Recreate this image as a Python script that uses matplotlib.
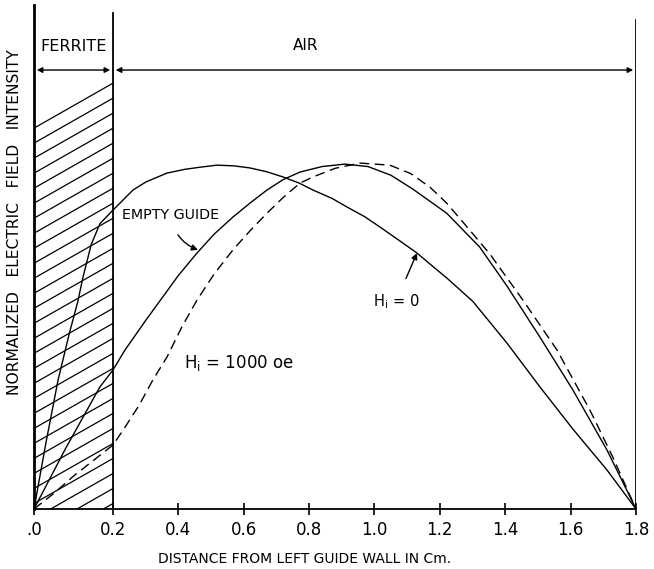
import numpy as np
import matplotlib
matplotlib.use('Agg')
import matplotlib.pyplot as plt

# --- data (x in cm, y normalised so peak ~ 1) ---
h0_x = [0.0, 0.03, 0.061, 0.09, 0.111, 0.124, 0.145, 0.167, 0.2, 0.261, 0.3, 0.365,
        0.42, 0.466, 0.518, 0.57, 0.619, 0.67, 0.720, 0.77, 0.812, 0.87, 0.916, 0.97,
        1.017, 1.07, 1.130, 1.18, 1.221, 1.301, 1.405, 1.506, 1.607, 1.711, 1.8]
h0_y = [0.0, 0.19, 0.373, 0.51, 0.60, 0.67, 0.765, 0.825, 0.864, 0.922, 0.945, 0.971,
        0.982, 0.988, 0.994, 0.992, 0.986, 0.975, 0.960, 0.942, 0.922, 0.898, 0.873, 0.845,
        0.815, 0.78, 0.740, 0.70, 0.668, 0.60, 0.48, 0.353, 0.231, 0.113, 0.0]

empty_x = [0.0, 0.08, 0.167, 0.2, 0.237, 0.3, 0.35, 0.4, 0.457, 0.51, 0.567, 0.62,
           0.671, 0.72, 0.772, 0.84, 0.909, 0.98, 1.05, 1.117, 1.221, 1.322, 1.405,
           1.506, 1.607, 1.711, 1.8]
empty_y = [0.0, 0.175, 0.353, 0.402, 0.46, 0.545, 0.61, 0.675, 0.74, 0.795, 0.844, 0.885,
           0.922, 0.952, 0.974, 0.99, 0.997, 0.99, 0.965, 0.925, 0.855, 0.757, 0.645,
           0.497, 0.344, 0.171, 0.0]

h1000_x = [0.0, 0.05, 0.1, 0.15, 0.2, 0.231, 0.28, 0.322, 0.365, 0.41, 0.457, 0.51,
           0.567, 0.62, 0.671, 0.72, 0.772, 0.812, 0.88, 0.956, 1.047, 1.11, 1.169,
           1.22, 1.270, 1.353, 1.454, 1.558, 1.659, 1.729, 1.8]
h1000_y = [0.0, 0.045, 0.095, 0.14, 0.185, 0.228, 0.30, 0.373, 0.439, 0.525, 0.604, 0.68,
           0.749, 0.805, 0.855, 0.90, 0.942, 0.960, 0.985, 1.0, 0.994, 0.97, 0.931,
           0.885, 0.83, 0.737, 0.604, 0.46, 0.286, 0.150, 0.0]

x_ticks = [0.0, 0.2, 0.4, 0.6, 0.8, 1.0, 1.2, 1.4, 1.6, 1.8]
x_ticklabels = ['.0', '0.2', '0.4', '0.6', '0.8', '1.0', '1.2', '1.4', '1.6', '1.8']

FERRITE_END = 0.2
GUIDE_END = 1.8
FERRITE_TOP = (1.101, 1.231)   # hatch top edge at x=0 and x=0.2
Y_TOP = 1.457

# ferrite slab is drawn wider than the air region in the original drawing
def fwd(x):
    x = np.asarray(x, dtype=float)
    return np.where(x <= 0.2, x * 395.0, 79.0 + (x - 0.2) * 327.0)

def inv(p):
    p = np.asarray(p, dtype=float)
    return np.where(p <= 79.0, p / 395.0, 0.2 + (p - 79.0) / 327.0)

fig = plt.figure(figsize=(6.54, 5.69), dpi=100)
ax = fig.add_axes([34 / 654, 1 - 509 / 569, 602 / 654, 504 / 569])
ax.set_xscale('function', functions=(fwd, inv))
ax.set_xlim(0, GUIDE_END)
ax.set_ylim(0, Y_TOP)

# hatching of the ferrite slab
slope = (FERRITE_TOP[1] - FERRITE_TOP[0]) / FERRITE_END
for k in range(29):
    c = FERRITE_TOP[0] - k * 0.0434
    x0 = max(0.0, -c / slope)
    y1 = c + slope * FERRITE_END
    if y1 <= 0:
        continue
    ax.plot([x0, FERRITE_END], [c + slope * x0, y1], color='black', lw=0.9)

# curves
ax.plot(h0_x, h0_y, color='black', lw=1.0)
ax.plot(empty_x, empty_y, color='black', lw=1.0)
ax.plot(h1000_x, h1000_y, color='black', lw=1.0, dashes=(7, 4))

# walls
ax.plot([FERRITE_END, FERRITE_END], [0, 1.434], color='black', lw=1.3)
ax.plot([GUIDE_END, GUIDE_END], [0, 1.413], color='black', lw=2.0)

# region arrows
arr_y = 1.269
ax.annotate('', xy=(0, arr_y), xytext=(FERRITE_END, arr_y),
            arrowprops=dict(arrowstyle='<|-|>', color='black', lw=1.0, mutation_scale=8))
ax.annotate('', xy=(FERRITE_END, arr_y), xytext=(GUIDE_END, arr_y),
            arrowprops=dict(arrowstyle='<|-|>', color='black', lw=1.0, mutation_scale=8))
ax.text(0.1, 1.315, 'FERRITE', ha='center', va='bottom', fontsize=11.5)
ax.text(0.788, 1.318, 'AIR', ha='center', va='bottom', fontsize=11)

# labels on curves
ax.annotate('EMPTY GUIDE', xy=(0.46, 0.749), xytext=(0.377, 0.85),
            ha='center', va='center', fontsize=10.3,
            arrowprops=dict(arrowstyle='-|>', color='black', lw=1.0,
                            connectionstyle='arc3,rad=0.3',
                            shrinkA=8, shrinkB=0, mutation_scale=9))
ax.annotate('H$_\\mathregular{i}$ = 0', xy=(1.130, 0.740), xytext=(1.065, 0.598),
            ha='center', va='center', fontsize=10.5,
            arrowprops=dict(arrowstyle='-|>', color='black', lw=1.0,
                            shrinkA=9, shrinkB=0, mutation_scale=9))
ax.text(0.585, 0.422, 'H$_\\mathregular{i}$ = 1000 oe', ha='center', va='center',
        fontsize=12)

# axes styling
for s in ['top', 'right']:
    ax.spines[s].set_visible(False)
ax.spines['left'].set_linewidth(2.0)
ax.spines['bottom'].set_linewidth(1.3)
ax.set_yticks([])
ax.set_xticks(x_ticks)
ax.set_xticklabels(x_ticklabels)
ax.xaxis.set_minor_locator(matplotlib.ticker.NullLocator())
ax.tick_params(axis='x', direction='inout', length=9, width=1.2, labelsize=12, pad=4)

ax.set_xlabel('DISTANCE FROM LEFT GUIDE WALL IN Cm.', fontsize=10)
ax.xaxis.set_label_coords(0.45, -0.085)
ax.set_ylabel('NORMALIZED   ELECTRIC   FIELD   INTENSITY', fontsize=11.2)
ax.yaxis.set_label_coords(-0.02, 0.57)

fig.savefig('out.png', dpi=100)
